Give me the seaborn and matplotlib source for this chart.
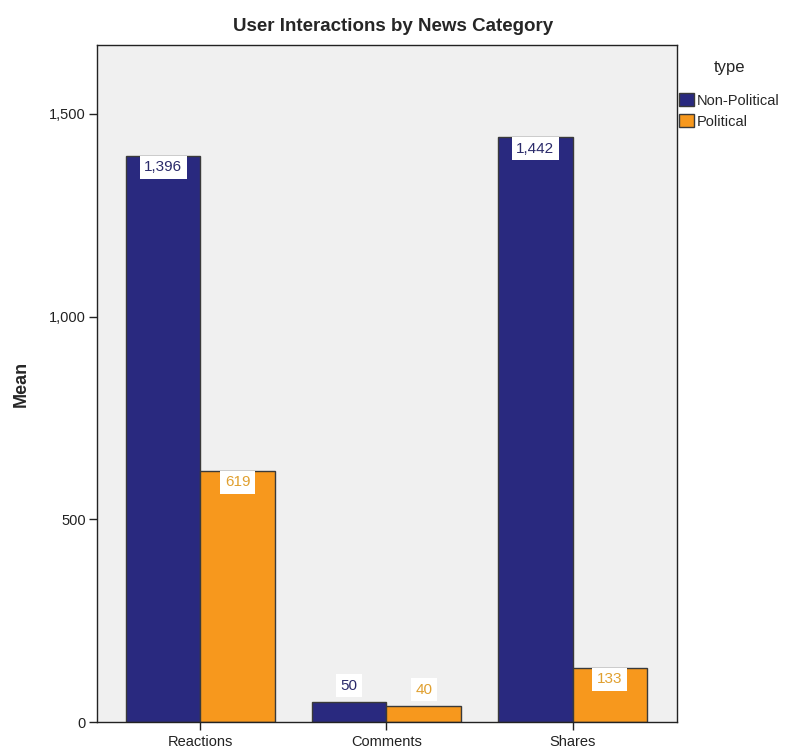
import matplotlib
matplotlib.use("Agg")
import matplotlib.pyplot as plt
import seaborn as sns
import pandas as pd
from matplotlib.ticker import FuncFormatter

# Mean interactions per news type
categories = ["Reactions", "Comments", "Shares"]
types = ["Non-Political", "Political"]
non_political = [1396, 50, 1442]
political = [619, 40, 133]

df = pd.DataFrame({
    "category": categories * 2,
    "type": [types[0]] * 3 + [types[1]] * 3,
    "mean": non_political + political,
})

navy = "#29297f"
orange = "#f7981d"
palette = {types[0]: navy, types[1]: orange}
label_colors = {types[0]: "#2b2b6b", types[1]: "#e0a030"}

sns.set_style("white")
plt.rcParams["font.family"] = ["Liberation Sans", "DejaVu Sans"]

fig = plt.figure(figsize=(7.85, 7.51), dpi=100)
ax = fig.add_axes([0.1236, 0.0386, 0.7389, 0.9014])
ax.set_facecolor("#f0f0f0")

sns.barplot(data=df, x="category", y="mean", hue="type", order=categories,
            hue_order=types, palette=palette, width=0.8, saturation=1,
            edgecolor="#3a3a3a", linewidth=1.0, ax=ax, legend=True)

ax.set_ylim(0, 1670)
ax.set_xlim(-0.556, 2.562)
ax.set_xlabel("")
ax.set_ylabel("Mean", fontsize=13, fontweight="bold", labelpad=14)
ax.set_yticks([0, 500, 1000, 1500])
ax.yaxis.set_major_formatter(FuncFormatter(lambda v, p: f"{int(v):,}"))
ax.tick_params(axis="both", direction="out", length=6, width=1,
               labelsize=10.5, color="#222222", labelcolor="#222222",
               bottom=True, left=True)
ax.tick_params(axis="x", pad=3)
ax.tick_params(axis="y", pad=2)
for s in ax.spines.values():
    s.set_color("#222222")
    s.set_linewidth(1)

# Value labels in white boxes
for container, t in zip(ax.containers, types):
    for bar in container:
        h = bar.get_height()
        xc = bar.get_x() + bar.get_width() / 2
        if h > 100:
            y, va = h - 10, "top"
        else:
            y, va = h + 22, "bottom"
        ax.text(xc, y, f"{int(round(h)):,}", ha="center", va=va,
                fontsize=11, color=label_colors[t],
                bbox=dict(boxstyle="square,pad=0.3", facecolor="white",
                          edgecolor="none"))

ax.set_title("User Interactions by News Category", fontsize=13.5,
             fontweight="bold", pad=10, x=0.51)

leg = ax.legend(title="type", loc="upper left", bbox_to_anchor=(1.004, 0.978),
                frameon=False, fontsize=10.5, title_fontsize=12,
                handlelength=1.0, handleheight=1.0, handletextpad=0.2,
                borderaxespad=0.0, borderpad=0.0, labelspacing=0.45)
leg._legend_box.sep = 13
for h in leg.legend_handles:
    h.set_edgecolor("#3a3a3a")

fig.savefig("out.png", dpi=100)
